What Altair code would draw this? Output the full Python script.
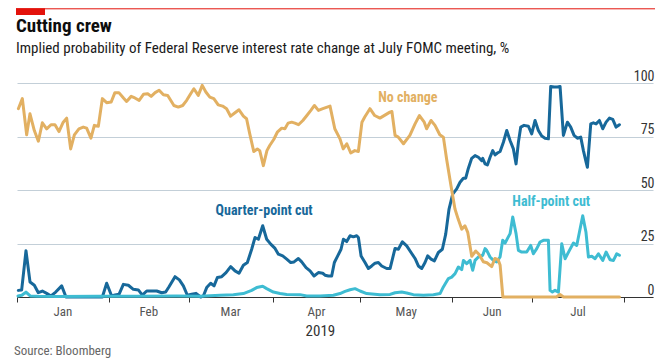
import altair as alt
import pandas as pd

# x positions are business-day index from 1 Jan 2019 (weekday scale, as in the original)
NOCH_W = [0.34,1.34,2.42,3.25,4.34,5.35,6.35,7.43,8.51,9.51,10.51,11.58,12.44,13.44,14.37,15.51,16.59,17.44,18.52,19.37,
          20.37,21.38,22.45,23.59,24.52,25.52,26.67,27.45,28.6,29.52,30.6,31.67,32.74,33.6,34.6,35.6,36.67,37.75,
          39.3,40.4,41.5,42.5,43.5,44.3,45.4,46.4,47.3,48.3,49.3,50.4,51.5,52.5,53.5,54.6,55.6,56.7,57.5,58.3,
          59.3,60.2,60.8,61.7,62.6,63.3,64.3,65.2,66.3,67.1,67.9,68.8,69.6,70.5,71.6,72.6,73.6,74.5,75.5,76.6,
          78.4,79.6,80.9,81.7,82.6,83.6,84.6,85.5,86.4,87.1,88.4,89.6,90.9,93.4,93.9,94.7,95.5,96.8,98.4,99.7,
          100.8,102.0,102.6,103.7,104.7,105.9,106.8,107.6,108.7,109.7,110.5,111.4,112.2,112.9,
          113.9,114.9,115.7,116.8,117.7,118.9,119.7,120.5,121.0,121.7,135.1,136.0,136.9,150.9]
NOCH_V = [88,92.7,75.8,85.6,77.8,72.8,81.4,78.6,80.5,80.5,77.3,81.7,83.6,69.2,75.8,78.6,79.4,78.9,74.2,80.2,
          79.8,92.7,90.8,91.1,95.5,95.5,93,91.4,93.75,93,91.9,94.7,95,93.75,95.5,96.6,94.5,94.2,
          89.5,88.75,89.5,91.9,95,97.3,94.2,98.9,95.8,93.4,92.7,89.8,89.2,88,84.5,86.1,87.5,84.5,83.3,76.25,
          68,69.2,68.4,61.4,68.4,70.8,73.6,77,78.9,78.6,81.25,81.7,81.25,80.5,82.5,84.8,87.2,89.5,87.2,88,
          89.2,78.6,73.9,69.2,71.6,67.3,68.4,68,81.7,84.1,88,84.8,83.6,86.4,86.7,75.5,74.7,71.6,75.5,80.9,
          84.8,81.7,78.6,82.5,80.2,75.8,74.7,64.5,52,41.1,36.4,31.7,33.3,30.2,
          19,21.5,20,16.5,16,14.2,18,17.5,15,0,0,1.2,0,0]

QUART_W = [0.33,1.17,2.25,3.26,4.34,5.34,6.35,7.43,8.52,9.69,11.19,12.27,21.38,22.46,23.71,24.55,25.55,26.64,27.89,29.14,
           30.39,31.40,32.48,33.74,34.99,36.24,37.24,38.08,
           39.58,40.67,41.67,42.67,43.75,44.84,46.01,46.68,47.51,48.51,49.35,50.19,51.27,52.36,53.52,54.61,55.61,56.70,57.70,58.78,
           59.62,60.46,61.54,62.54,63.55,64.63,65.47,66.55,67.56,68.56,69.39,70.48,71.31,72.40,73.40,74.40,75.49,76.57,
           77.15,78.0,78.82,79.49,80.33,81.16,81.75,82.58,83.42,84.25,85.09,85.51,86.18,87.17,88.01,88.84,89.68,90.51,91.35,92.6,
           93.44,94.69,95.52,96.53,97.61,98.7,99.7,100.53,101.37,102.2,102.87,103.71,104.54,105.54,106.54,107.38,108.21,109.13,110.13,110.97,
           111.8,112.39,113.06,113.89,114.73,115.56,116.4,
           116.65,117.24,117.82,118.49,119.16,119.74,120.33,121.0,121.83,122.67,123.5,124.33,125.0,125.59,126.17,127.0,128.09,128.92,129.76,130.59,
           131.43,132.26,133.1,133.68,134.52,135.35,136.02,136.86,137.86,138.69,139.53,140.36,141.2,141.87,142.54,142.87,143.71,144.37,145.04,145.88,
           146.71,147.55,148.38,149.22,150.05,150.89]
QUART_V = [3.1,3.3,21.6,7,5.5,2,2.8,1.7,0.5,2.3,5.2,0,0,6.4,0.5,0.9,1.25,5.9,5.5,3.6,
           3.3,0.9,2.8,2.8,2.8,2,2.3,4.8,
           9.5,8,5.2,0.8,1.25,1.7,0,0.5,4.4,6.4,5.2,9.1,9.5,11.4,14.2,12.2,11.1,14.8,16.1,22.3,
           27.8,27,33.3,27,24.7,22.7,20,19.2,17.7,16.1,16.4,18,16.4,13.75,12.2,9.8,11.4,11.1,
           10.2,9.8,9.8,16.1,19.2,22.3,27,25.9,28.6,28.1,28.6,27.8,19.2,16.1,13.3,14.5,15.8,16.1,14.5,13.3,
           13.3,22.7,22.3,25.8,23.9,20.8,18,14.5,13.3,16.1,19.2,17.7,16.9,20.8,22.3,29.4,41.1,48.1,50.5,53.6,
           55.5,55.5,60.2,64.8,66.1,65.3,63.75,
           64.8,62.2,61.7,65.3,68.4,66.4,67.3,68,72.3,77.8,73.1,69.2,62.2,72.3,79.4,80.2,79.8,76.25,82.5,77.8,
           75.2,74.2,73.9,98.4,98.1,98.1,98.4,75.5,81.7,79.4,75.5,74.2,74.7,68.4,63,60.6,80.9,81.4,80.9,82.5,
           78.6,81.7,83.6,83,79.4,80.5]

HALF_W = [0.25,1.2,2.25,3.3,5,10,20,30,40,46,
          50.85,54.19,56.69,58.78,60.04,61.54,62.54,64.21,65.88,67.55,70.89,72.56,75.9,79.24,80.91,82.16,83.42,84.67,85.92,87.59,
          90.93,93.44,94.69,96.36,97.61,99.28,101.79,104.29,105.96,
          106.79,108.05,108.88,109.72,110.55,111.39,111.81,112.64,113.48,114.15,114.73,115.56,116.65,117.23,117.65,118.49,119.32,120.16,120.99,121.66,
          122.25,122.83,123.5,124.17,125.0,125.59,126.42,127.67,128.67,129.34,130.18,131.01,131.85,133.1,133.52,134.11,134.77,135.61,136.45,137.28,
          138.37,139.37,140.2,141.7,142.5,143.13,143.96,144.8,145.63,146.72,147.55,148.55,149.39,150.22,150.89]
HALF_V = [0.5,0.8,2.3,0.5,0.3,0.2,0.3,0.3,0.5,0.4,
          0.8,1.1,1.6,3.1,4.4,5,3.9,2.3,1.6,1.2,1.1,0.5,0.5,0.8,1.6,2.6,3.4,3.9,2.8,1.6,
          1.1,1.2,2.0,2.3,1.9,1.1,0.8,1.1,1.6,
          4.7,8.6,9.3,10.9,14.0,12.8,17.1,15.6,17.1,12.5,17.1,18.7,19.5,22.6,21.8,18.7,17.1,16.4,18.7,26.5,
          25.2,27.3,29.6,37.4,29.6,21.8,21.0,21.0,24.1,20.2,22.6,25.7,26.5,26.5,3.1,2.3,3.1,2.3,24.9,17.9,
          21.8,25.2,24.1,38.0,30.4,18.7,19.0,17.9,20.2,17.1,21.0,17.4,17.1,20.2,19.5]

MONTHS = ["Jan", "Feb", "Mar", "Apr", "May", "Jun", "Jul"]
MONTH_MID = [11.5, 33, 53.5, 75, 97.5, 119, 140.5]
MONTH_STARTS = [0, 23, 43, 64, 86, 109, 129, 152]
Y_TICKS = [0, 25, 50, 75, 100]

SERIES_LABELS = ["No change", "Quarter-point cut", "Half-point cut"]
LABEL_W = [97.9, 61.9, 133.8]
LABEL_V = [93.0, 40.0, 44.4]

TITLE = "Cutting crew"
SUBTITLE = "Implied probability of Federal Reserve interest rate change at July FOMC meeting, %"
SOURCE = "Source: Bloomberg"

ORANGE = "#E2B062"
DARK = "#17689A"
LIGHT = "#3EBCD2"
RED = "#E3120B"
FONT = "Liberation Sans Narrow, Roboto Condensed, DejaVu Sans Condensed, sans-serif"

W, H = 636, 214
xs = alt.Scale(domain=[0, 159.3], nice=False, zero=False)
ys = alt.Scale(domain=[0, 100], nice=False, zero=True)

df_n = pd.DataFrame({"w": NOCH_W, "v": NOCH_V})
df_q = pd.DataFrame({"w": QUART_W, "v": QUART_V})
df_h = pd.DataFrame({"w": HALF_W, "v": HALF_V})

x_axis = alt.Axis(values=MONTH_STARTS, labels=False, ticks=True, tickSize=5, tickColor="#333333",
                  domainColor="#333333", domainWidth=1, grid=False, title=None)
y_axis = alt.Axis(values=Y_TICKS, orient="right", grid=True, gridColor="#C3CFD8", gridWidth=1,
                  domain=False, ticks=False, tickSize=0, labelAlign="right", labelBaseline="alphabetic",
                  labelOffset=-3, labelPadding=1, labelFont=FONT, labelFontSize=14, labelColor="#333333",
                  title=None)

X = alt.X("w:Q", scale=xs, axis=x_axis)
Y = alt.Y("v:Q", scale=ys, axis=y_axis)


def line(df, color):
    return alt.Chart(df).mark_line(color=color, strokeWidth=3, strokeJoin="round", strokeCap="round").encode(
        x=X, y=Y)


quart = line(df_q, DARK)
half = line(df_h, LIGHT)
noch = line(df_n, ORANGE)

lab_df = pd.DataFrame({"w": LABEL_W, "v": LABEL_V, "t": SERIES_LABELS})
labels = alt.Chart(lab_df).mark_text(font=FONT, fontSize=14, fontWeight="bold").encode(
    x=X, y=Y, text="t:N",
    color=alt.Color("t:N", scale=alt.Scale(domain=SERIES_LABELS, range=[ORANGE, DARK, LIGHT]), legend=None))

mon_df = pd.DataFrame({"w": MONTH_MID, "m": MONTHS})
months = alt.Chart(mon_df).mark_text(font=FONT, fontSize=13, color="#555555", baseline="middle").encode(
    x=X, y=alt.value(H + 15), text="m:N")
year = alt.Chart(pd.DataFrame({"w": [76], "t": ["2019"]})).mark_text(
    font=FONT, fontSize=15, color="#333333", baseline="middle").encode(
    x=X, y=alt.value(H + 34), text="t:N")


def txt(s, x, y, size, weight="normal", color="#0d0d0d"):
    return alt.Chart(pd.DataFrame({"t": [s]})).mark_text(
        font=FONT, fontSize=size, fontWeight=weight, color=color, align="left", baseline="middle").encode(
        x=alt.value(x), y=alt.value(y), text="t:N")


title = txt(TITLE, -1, -57, 19, "bold")
subtitle = txt(SUBTITLE, -1, -35.5, 15, "normal", "#1a1a1a")
source = txt(SOURCE, -3, H + 54, 13, "normal", "#666666")

red_line = alt.Chart(pd.DataFrame({"a": [0]})).mark_rule(color=RED, strokeWidth=1).encode(
    x=alt.value(-1), x2=alt.value(W + 2), y=alt.value(-74.2))
red_block = alt.Chart(pd.DataFrame({"a": [0]})).mark_rect(color=RED).encode(
    x=alt.value(-1), x2=alt.value(28), y=alt.value(-74.7), y2=alt.value(-68))

chart = alt.layer(quart, half, noch, labels, months, year, title, subtitle, source, red_line, red_block).properties(
    width=W, height=H,
    autosize=alt.AutoSizeParams(type="none"),
    padding={"left": 9, "top": 75, "right": 3, "bottom": 62},
    background="white",
).configure_view(stroke=None)

chart.save("out.html", embed_options={"renderer": "svg", "actions": False})
